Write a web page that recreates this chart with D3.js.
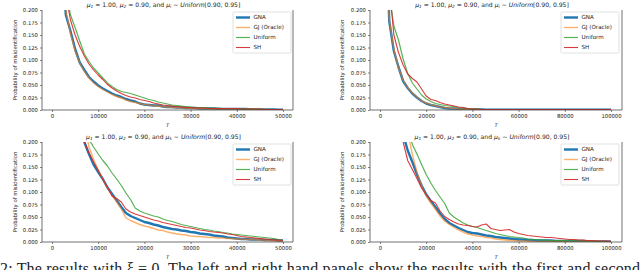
<!DOCTYPE html>
<html>
<head>
<meta charset="utf-8">
<script src="https://cdnjs.cloudflare.com/ajax/libs/d3/7.8.5/d3.min.js"></script>
<style>
  body { margin: 0; background: white; }
  text { font-family: "DejaVu Sans", sans-serif; fill: #222; }
</style>
</head>
<body>
<div id="graph"></div>
<script>
// series names + colours
var names = ["GNA", "GJ (Oracle)", "Uniform", "SH"]
var colors = ["#1f77b4", "#ff7f0e", "#2ca02c", "#d62728"]

// time grids (left panels every 1000, right panels every 2000)
var tLeft = d3.range(0, 50001, 1000)
var tRight = d3.range(0, 100001, 2000)

var yTicks = [0, 0.025, 0.05, 0.075, 0.1, 0.125, 0.15, 0.175, 0.2]
var xTicksLeft = [0, 10000, 20000, 30000, 40000, 50000]
var xTicksRight = [0, 20000, 40000, 60000, 80000, 100000]

// top left
var tlGNA = [0.9,0.55,0.31,0.19,0.158,0.122,0.095,0.080,0.066,0.057,0.049,0.043,0.038,0.033,0.029,0.026,0.022,0.019,0.017,0.013,0.011,0.010,0.009,0.009,0.007,0.006,0.006,0.005,0.005,0.004,0.004,0.004,0.003,0.003,0.003,0.003,0.002,0.002,0.002,0.002,0.002,0.002,0.002,0.001,0.001,0.001,0.001,0.001,0.001,0.0005,0.0005]
var tlGJ = [0.85,0.5,0.3,0.2,0.152,0.118,0.094,0.077,0.064,0.054,0.047,0.041,0.036,0.031,0.027,0.024,0.020,0.017,0.015,0.013,0.011,0.010,0.008,0.008,0.007,0.006,0.005,0.005,0.004,0.004,0.003,0.003,0.003,0.003,0.002,0.002,0.002,0.002,0.002,0.002,0.002,0.001,0.001,0.001,0.001,0.001,0.001,0.001,0.0005,0.0005,0.0005]
var tlUniform = [1,0.7,0.4,0.24,0.19,0.165,0.138,0.112,0.097,0.084,0.074,0.064,0.054,0.047,0.041,0.037,0.035,0.033,0.030,0.027,0.024,0.021,0.019,0.016,0.014,0.012,0.010,0.009,0.008,0.007,0.006,0.005,0.005,0.005,0.004,0.004,0.004,0.003,0.003,0.003,0.003,0.002,0.002,0.002,0.002,0.002,0.001,0.001,0.001,0.001,0.001]
var tlSH = [1,0.65,0.38,0.23,0.18,0.15,0.127,0.108,0.092,0.080,0.070,0.061,0.051,0.044,0.038,0.033,0.029,0.026,0.024,0.021,0.019,0.017,0.014,0.012,0.010,0.009,0.008,0.007,0.006,0.005,0.005,0.004,0.004,0.004,0.003,0.003,0.003,0.003,0.003,0.003,0.003,0.002,0.002,0.002,0.002,0.002,0.001,0.001,0.001,0.001,0.001]

// top right
var trGNA = [0.9,0.45,0.178,0.118,0.086,0.058,0.044,0.033,0.025,0.018,0.013,0.010,0.008,0.006,0.004,0.003,0.003,0.002,0.002,0.001,0.001,0.001,0.001,0.0005,0.0005,0.0005,0.0005,0.0005,0.0005,0.0005,0.0005,0.0005,0.0005,0.0005,0.0005,0.0005,0.0005,0.0005,0.0005,0.0005,0.0005,0.0005,0.0005,0.0005,0.0005,0.0005,0.0005,0.0005,0.0005,0.0005,0.0005]
var trGJ = [0.85,0.42,0.18,0.122,0.085,0.060,0.045,0.034,0.026,0.018,0.014,0.011,0.008,0.006,0.005,0.004,0.003,0.002,0.002,0.001,0.001,0.001,0.0005,0.0005,0.0005,0.0005,0.0005,0.0005,0.0005,0.0005,0.0005,0.0005,0.0005,0.0005,0.0005,0.0005,0.0005,0.0005,0.0005,0.0005,0.0005,0.0005,0.0005,0.0005,0.0005,0.0005,0.0005,0.0005,0.0005,0.0005,0.0005]
var trUniform = [1,0.6,0.23,0.168,0.14,0.102,0.073,0.054,0.042,0.030,0.022,0.017,0.013,0.011,0.009,0.008,0.007,0.005,0.004,0.003,0.002,0.002,0.001,0.001,0.001,0.001,0.001,0.001,0.001,0.001,0.001,0.001,0.001,0.001,0.001,0.001,0.001,0.001,0.001,0.001,0.001,0.001,0.001,0.001,0.001,0.001,0.001,0.001,0.001,0.001,0.001]
var trSH = [1,0.6,0.25,0.15,0.115,0.09,0.072,0.063,0.056,0.042,0.028,0.021,0.019,0.015,0.012,0.010,0.008,0.006,0.005,0.003,0.002,0.002,0.001,0.001,0.001,0.001,0.001,0.001,0.001,0.001,0.001,0.001,0.001,0.001,0.001,0.001,0.001,0.001,0.001,0.001,0.001,0.001,0.001,0.001,0.001,0.001,0.001,0.001,0.001,0.001,0.001]

// bottom left
var blGNA = [1.5,1.2,0.9,0.65,0.45,0.33,0.25,0.2,0.176,0.155,0.14,0.126,0.109,0.096,0.083,0.07,0.058,0.052,0.048,0.044,0.040,0.038,0.035,0.033,0.030,0.028,0.026,0.025,0.023,0.022,0.020,0.019,0.017,0.016,0.015,0.013,0.012,0.011,0.009,0.008,0.007,0.006,0.006,0.005,0.005,0.005,0.004,0.004,0.004,0.003,0.003]
var blGJ = [1.5,1.2,0.9,0.7,0.5,0.36,0.28,0.24,0.19,0.165,0.145,0.125,0.108,0.093,0.080,0.066,0.048,0.043,0.039,0.035,0.032,0.030,0.027,0.024,0.023,0.020,0.018,0.016,0.015,0.014,0.012,0.011,0.011,0.010,0.009,0.009,0.008,0.008,0.007,0.007,0.006,0.006,0.005,0.005,0.005,0.004,0.004,0.003,0.003,0.002,0.002]
var blUniform = [1.5,1.2,0.9,0.7,0.5,0.38,0.31,0.27,0.205,0.19,0.176,0.163,0.152,0.138,0.126,0.113,0.098,0.085,0.068,0.062,0.058,0.055,0.052,0.050,0.046,0.043,0.041,0.038,0.035,0.033,0.031,0.029,0.027,0.025,0.024,0.022,0.021,0.019,0.018,0.016,0.015,0.014,0.013,0.012,0.011,0.010,0.009,0.008,0.007,0.005,0.004]
var blSH = [1.5,1.2,0.9,0.65,0.45,0.33,0.25,0.2,0.178,0.16,0.143,0.125,0.11,0.092,0.087,0.08,0.066,0.06,0.056,0.053,0.05,0.047,0.044,0.042,0.039,0.037,0.035,0.033,0.031,0.029,0.028,0.026,0.024,0.023,0.021,0.02,0.019,0.018,0.016,0.015,0.013,0.011,0.010,0.009,0.008,0.007,0.006,0.005,0.004,0.004,0.003]

// bottom right
var brGNA = [2,1.4,0.9,0.55,0.32,0.215,0.183,0.16,0.135,0.113,0.095,0.082,0.07,0.057,0.046,0.038,0.033,0.028,0.024,0.02,0.018,0.017,0.015,0.013,0.012,0.010,0.009,0.008,0.007,0.006,0.005,0.005,0.004,0.004,0.003,0.003,0.003,0.003,0.002,0.002,0.002,0.002,0.002,0.002,0.002,0.001,0.001,0.001,0.001,0.001,0.001]
var brGJ = [2,1.5,1.0,0.7,0.45,0.3,0.22,0.175,0.14,0.112,0.092,0.078,0.065,0.052,0.042,0.035,0.029,0.024,0.02,0.016,0.014,0.012,0.011,0.009,0.008,0.006,0.005,0.004,0.003,0.003,0.002,0.002,0.002,0.001,0.001,0.001,0.001,0.001,0.001,0.001,0.001,0.001,0.001,0.001,0.001,0.001,0.001,0.001,0.001,0.001,0.001]
var brUniform = [2,1.5,1.0,0.7,0.45,0.32,0.235,0.195,0.176,0.155,0.135,0.118,0.103,0.09,0.077,0.058,0.05,0.044,0.038,0.034,0.031,0.029,0.026,0.023,0.02,0.017,0.015,0.013,0.011,0.010,0.009,0.008,0.006,0.005,0.005,0.004,0.004,0.003,0.003,0.003,0.003,0.002,0.002,0.002,0.002,0.002,0.002,0.001,0.001,0.001,0.001]
var brSH = [2,1.4,0.9,0.55,0.3,0.2,0.163,0.145,0.127,0.108,0.095,0.083,0.078,0.062,0.051,0.045,0.04,0.036,0.034,0.033,0.031,0.03,0.034,0.036,0.027,0.025,0.023,0.024,0.025,0.02,0.017,0.015,0.013,0.012,0.011,0.01,0.009,0.009,0.008,0.007,0.006,0.005,0.005,0.004,0.004,0.003,0.003,0.002,0.002,0.002,0.001]

var W = 640, H = 270
var svg = d3.select("#graph").append("svg")
    .attr("width", W).attr("height", H)

// line look per series
var widths = [2.4, 1.4, 1.2, 1.1]
var opac = [1, 0.6, 0.8, 0.9]

var panels = [
  {box: [42, 10, 293, 110], xr: [52, 283], xMax: 50000, xTicks: xTicksLeft, t: tLeft, sub: "i", ylab: 15, legX: 233, series: [tlGNA, tlGJ, tlUniform, tlSH]},
  {box: [370, 10, 622, 110], xr: [380, 611], xMax: 100000, xTicks: xTicksRight, t: tRight, sub: "i", ylab: 342.5, legX: 561, series: [trGNA, trGJ, trUniform, trSH]},
  {box: [42, 142, 293, 242], xr: [52, 283], xMax: 50000, xTicks: xTicksLeft, t: tLeft, sub: "k", ylab: 15, legX: 233, series: [blGNA, blGJ, blUniform, blSH]},
  {box: [370, 142, 622, 242], xr: [380, 611], xMax: 100000, xTicks: xTicksRight, t: tRight, sub: "k", ylab: 342.5, legX: 561, series: [brGNA, brGJ, brUniform, brSH]}
]

var fs = 5.3

panels.forEach(function(p, pi) {
  var x0 = p.box[0], y0 = p.box[1], x1 = p.box[2], y1 = p.box[3]
  var X = d3.scaleLinear().domain([0, p.xMax]).range(p.xr)
  var Y = d3.scaleLinear().domain([0, 0.2]).range([y1, y0])
  var g = svg.append("g")

  g.append("clipPath").attr("id", "clip" + pi)
    .append("rect").attr("x", x0).attr("y", y0).attr("width", x1 - x0).attr("height", y1 - y0)

  // lines
  var line = d3.line().x(function(d) { return X(d[0]) }).y(function(d) { return Y(d[1]) })
  p.series.forEach(function(vals, si) {
    var pts = vals.map(function(v, i) { return [p.t[i], v] })
    g.append("path").datum(pts)
      .attr("clip-path", "url(#clip" + pi + ")")
      .attr("d", line)
      .attr("fill", "none")
      .attr("stroke", colors[si])
      .attr("stroke-width", widths[si])
      .attr("stroke-opacity", opac[si])
      .attr("stroke-linejoin", "round")
  })

  // axes
  var ax = g.append("g").attr("transform", "translate(0," + y1 + ")")
    .call(d3.axisBottom(X).tickValues(p.xTicks).tickFormat(d3.format("d")).tickSize(2).tickSizeOuter(0).tickPadding(2))
  var ay = g.append("g").attr("transform", "translate(" + x0 + ",0)")
    .call(d3.axisLeft(Y).tickValues(yTicks).tickFormat(d3.format(".3f")).tickSize(2).tickSizeOuter(0).tickPadding(2))
  ;[ax, ay].forEach(function(a) {
    a.select(".domain").remove()
    a.selectAll("line").attr("stroke", "#333").attr("stroke-width", 0.6)
    a.selectAll("text").style("font-family", "DejaVu Sans").style("font-size", fs + "px").attr("fill", "#222")
  })

  // spines: left, bottom, right
  g.append("path")
    .attr("d", "M" + x0 + "," + y0 + "V" + y1 + "H" + x1 + "V" + y0)
    .attr("fill", "none").attr("stroke", "#333").attr("stroke-width", 0.7)

  // axis labels
  g.append("text").attr("x", (x0 + x1) / 2).attr("y", y1 + 16.5)
    .attr("text-anchor", "middle").style("font-size", fs + "px").style("font-style", "italic").text("T")
  g.append("text").attr("transform", "translate(" + p.ylab + "," + ((y0 + y1) / 2) + ") rotate(-90)")
    .attr("text-anchor", "middle").attr("dy", "0.35em").style("font-size", fs + "px")
    .text("Probability of misidentification")

  // title
  var tt = g.append("text").attr("x", (x0 + x1) / 2 - 4).attr("y", y0 - 3)
    .attr("text-anchor", "middle").style("font-size", "6.1px")
  function mu(s) {
    tt.append("tspan").style("font-style", "italic").text("μ")
    tt.append("tspan").attr("dy", 1.2).style("font-size", "4.3px").style("font-style", "italic").text(s)
  }
  mu("1"); tt.append("tspan").attr("dy", -1.2).text(" = 1.00, ")
  mu("2"); tt.append("tspan").attr("dy", -1.2).text(" = 0.90, and ")
  mu(p.sub); tt.append("tspan").attr("dy", -1.2).text(" ∼ ")
  tt.append("tspan").style("font-style", "italic").text("Uniform")
  tt.append("tspan").text("[0.90, 0.95]")

  // legend
  var lx = p.legX, ly = y0 + 2
  g.append("rect").attr("x", lx).attr("y", ly).attr("width", 58).attr("height", 41)
    .attr("rx", 1.5).attr("fill", "white").attr("fill-opacity", 0.8)
    .attr("stroke", "#ccc").attr("stroke-width", 0.6)
  names.forEach(function(n, si) {
    var yy = ly + 5.5 + si * 10
    g.append("line").attr("x1", lx + 3).attr("x2", lx + 17).attr("y1", yy).attr("y2", yy)
      .attr("stroke", colors[si]).attr("stroke-width", widths[si]).attr("stroke-opacity", opac[si])
    g.append("text").attr("x", lx + 20.5).attr("y", yy).attr("dy", "0.35em")
      .style("font-size", "5.6px").text(n)
  })
})

// caption (cut off at the bottom of the picture, as in the source)
svg.append("text").attr("x", 0).attr("y", 274)
  .style("font-family", "Liberation Serif, serif").style("font-size", "16px").attr("fill", "#111")
  .attr("textLength", 640).attr("lengthAdjust", "spacing")
  .text("2:  The results with ξ = 0.  The left and right hand panels show the results with the first and second")
</script>
</body>
</html>
